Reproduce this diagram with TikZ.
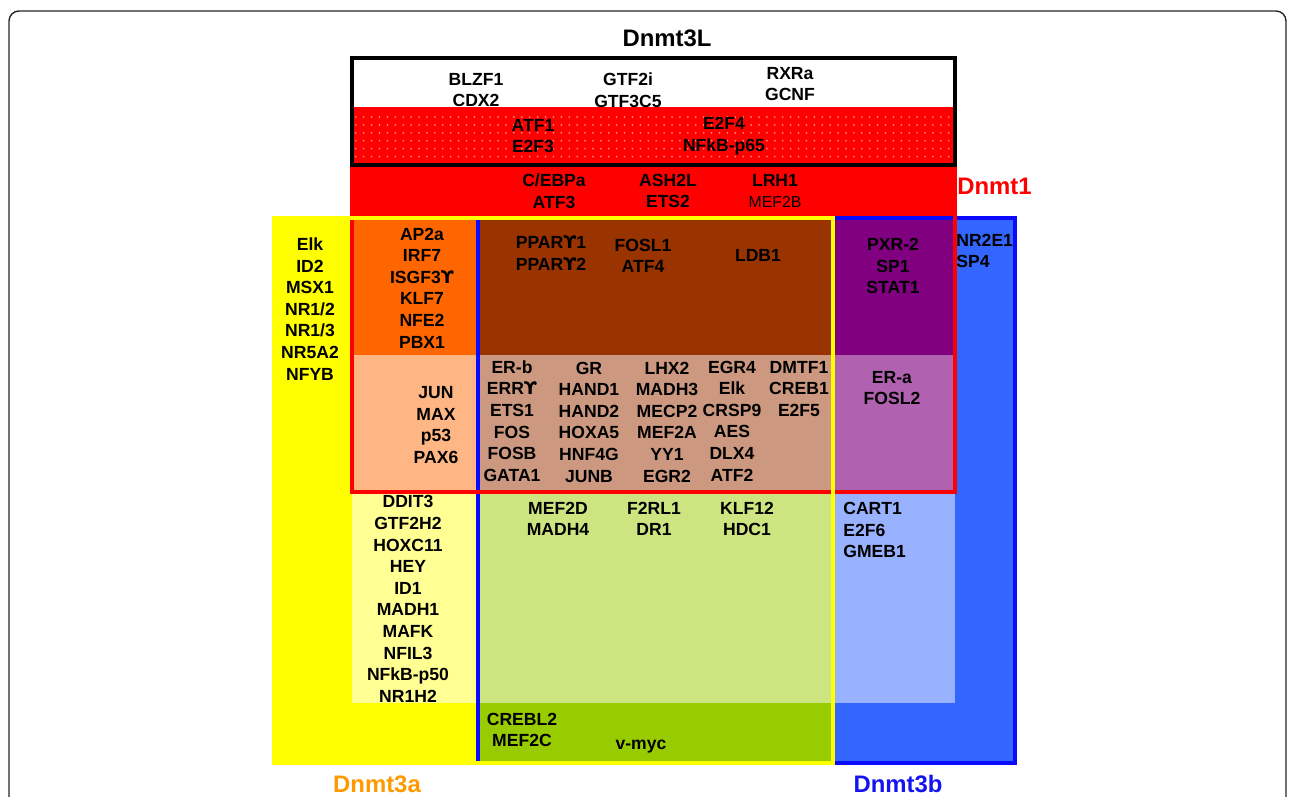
\documentclass[tikz,border=0pt]{standalone}
\usepackage{fontspec}
\setmainfont{Liberation Sans}
\newfontfamily\greekfont{DejaVu Sans}
\usetikzlibrary{patterns.meta}
\definecolor{set3a}{RGB}{255,255,0}
\definecolor{set1}{RGB}{255,0,0}
\definecolor{olap13a}{HTML}{FF6600}
\definecolor{olapall}{HTML}{993300}
\definecolor{olap13b}{HTML}{800080}
\definecolor{olap3ab}{HTML}{99CC00}
\definecolor{fill3b}{HTML}{3366FF}
\definecolor{line3b}{HTML}{0A0AFF}
\definecolor{text3a}{HTML}{FF9900}
\definecolor{text3b}{HTML}{1414F0}
\newcommand{\ypsg}{{\greekfont ϒ}}
\tikzset{
    tf/.style = {align=center, inner sep=0pt, font=\bfseries\fontsize{10}{12.3}\selectfont},
    tfl/.style = {tf, align=left, anchor=west},
    title/.style = {inner sep=0pt, font=\bfseries\fontsize{13.6}{16}\selectfont},
    setline/.style = {line width=1.8pt},
    frame/.style = {line width=0.8pt, draw=black!85, rounded corners=0.2cm}
}
\begin{document}
\begin{tikzpicture}[x=0.02cm, y=-0.02cm]
\useasboundingbox (0,0) rectangle (1295,797);
\clip (0,0) rectangle (1295,797);
\draw[frame] (9,11) rectangle (1286,840);
%
% sets
\fill[set3a] (274,218) rectangle (478,763);
\fill[fill3b] (833,218) rectangle (1015,763);
\fill[set1] (352,109) rectangle (955,218);
\fill[pattern={Dots[distance=4.5pt,radius=0.55pt]}, pattern color=white!55!set1] (352,109) rectangle (955,165);
%
% overlaps
\fill[olap13a] (352,218) rectangle (478,355);
\fill[olapall] (478,218) rectangle (833,355);
\fill[olap13b] (833,218) rectangle (955,355);
\fill[olap13a!48!white] (352,355) rectangle (478,492);
\fill[olapall!50!white] (478,355) rectangle (833,492);
\fill[olap13b!62!white] (833,355) rectangle (955,492);
\fill[set3a!42!white] (352,492) rectangle (478,703);
\fill[olap3ab!50!white] (478,492) rectangle (833,703);
\fill[fill3b!50!white] (833,492) rectangle (955,703);
\fill[olap3ab] (478,703) rectangle (833,763);
%
% borders
\draw[setline, line3b] (478,218) rectangle (1015,763);
\draw[setline, set1] (352,109) rectangle (955,492);
\draw[setline, set3a] (274,218) rectangle (833,763);
\draw[setline, black] (352,58) rectangle (955,165);
%
% titles
\node[title] at (667,38) (d3l) {Dnmt3L};
\node[title, set1, anchor=west] at (957,186) (d1) {Dnmt1};
\node[title, text3a] at (377,784) (d3a) {Dnmt3a};
\node[title, text3b] at (898,784) (d3b) {Dnmt3b};
%
% Dnmt3L and Dnmt1
\node[tf] at (476,90) (blzf) {BLZF1\\CDX2};
\node[tf] at (628,90) (gtf) {GTF2i\\GTF3C5};
\node[tf] at (790,84) (rxra) {RXRa\\GCNF};
\node[tf] at (533,136) (atfa) {ATF1\\E2F3};
\node[tf] at (724,136) (efd) {E2F4\\NFkB-p65};
\node[tf] at (554,191) (cebp) {C/EBPa\\ATF3};
\node[tf] at (668,191) (ash) {ASH2L\\ETS2};
\node[tf] at (775,191) (lrh) {LRH1\\{\mdseries\fontsize{9}{12.3}\selectfont MEF2B}};
%
% upper rows
\node[tf] at (310,309) (elk) {Elk\\ID2\\MSX1\\NR1/2\\NR1/3\\NR5A2\\NFYB};
\node[tf] at (422,288) (ap) {AP2a\\IRF7\\ISGF3\ypsg\\KLF7\\NFE2\\PBX1};
\node[tf] at (436,425) (jun) {JUN\\MAX\\p53\\PAX6};
\node[tf] at (551,253) (ppar) {PPAR\ypsg1\\PPAR\ypsg2};
\node[tf] at (643,256) (fosl) {FOSL1\\ATF4};
\node[tf] at (758,255) (ldb) {LDB1};
\node[tf] at (893,266) (pxr) {PXR-2\\SP1\\STAT1};
\node[tfl] at (956,251) (nr2) {NR2E1\\SP4};
\node[tf] at (512,421) (erb) {ER-b\\ERR\ypsg\\ETS1\\FOS\\FOSB\\GATA1};
\node[tf] at (589,422) (gr) {GR\\HAND1\\HAND2\\HOXA5\\HNF4G\\JUNB};
\node[tf] at (667,422) (lhx) {LHX2\\MADH3\\MECP2\\MEF2A\\YY1\\EGR2};
\node[tf] at (732,421) (egr) {EGR4\\Elk\\CRSP9\\AES\\DLX4\\ATF2};
\node[tf] at (799,389) (dmtf) {DMTF1\\CREB1\\E2F5};
\node[tf] at (892,388) (era) {ER-a\\FOSL2};
%
% lower rows
\node[tf] at (408,599) (ddit) {DDIT3\\GTF2H2\\HOXC11\\HEY\\ID1\\MADH1\\MAFK\\NFIL3\\NFkB-p50\\NR1H2};
\node[tf] at (558,519) (mefd) {MEF2D\\MADH4};
\node[tf] at (654,519) (ftr) {F2RL1\\DR1};
\node[tf] at (747,519) (klf) {KLF12\\HDC1};
\node[tfl] at (843,530) (cart) {CART1\\E2F6\\GMEB1};
\node[tf] at (522,730) (crebl) {CREBL2\\MEF2C};
\node[tf] at (641,747) (vmyc) {v-myc};
\end{tikzpicture}
\end{document}
